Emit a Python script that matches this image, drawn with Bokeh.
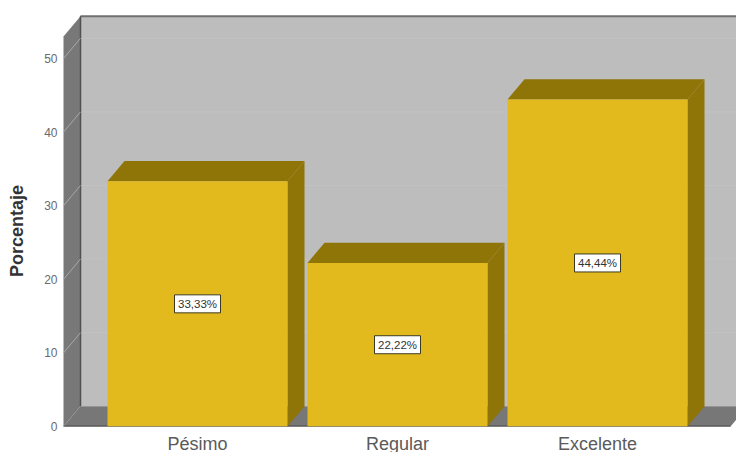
from bokeh.plotting import figure
from bokeh.models import FixedTicker, Range1d
from bokeh.embed import file_html
from bokeh.resources import INLINE
from bokeh.core.properties import value

categories = ["Pésimo", "Regular", "Excelente"]
percent = [33.33, 22.22, 44.44]
percent_labels = ["33,33%", "22,22%", "44,44%"]
y_ticks = [0, 10, 20, 30, 40, 50]
y_title = "Porcentaje"

YEL, DARK, WALL, SIDE, FLOOR = "#E2BA1E", "#8F7508", "#BDBDBD", "#787878", "#777777"
FONT = "Liberation Sans"
# 3D depth in data units, bar half width, axis extents
DX, DY, HW, TOP = 0.085, 2.75, 0.45, 53.0
XL, XR = -0.67, 2.665

xs = list(range(len(categories)))
p = figure(width=736, height=452, frame_width=674, frame_height=426,
           x_range=Range1d(XL - 0.005, 2.695), y_range=Range1d(0, 426 / 7.36),
           output_backend="svg", toolbar_location=None,
           min_border_left=62, min_border_right=0, min_border_top=0, min_border_bottom=26)
p.outline_line_color = None
p.background_fill_color = "white"
p.xgrid.visible = False
p.ygrid.visible = False

# back wall, its grid, side wall, floor
p.patch([XL + DX, 3.0, 3.0, XL + DX], [DY, DY, TOP + DY, TOP + DY], fill_color=WALL, line_color=None)
for t in y_ticks[1:]:
    p.line([XL + DX, 3.0], [t + DY, t + DY], line_color="#C2C2C2", line_width=1)
p.line([XL + DX, 3.0], [TOP + DY, TOP + DY], line_color="#707070", line_width=2)
p.patch([XL, XL + DX, XL + DX, XL], [0, DY, TOP + DY, TOP], fill_color=SIDE, line_color=None)
p.line([XL + DX, XL + DX], [DY, TOP + DY], line_color="#4F4F4F", line_width=1.5)
p.patch([XL, XL + DX, 3.0, XR], [0, DY, DY, 0], fill_color=FLOOR, line_color=None)
p.patch([XR, XR + DX, XR + DX], [0, DY, 0], fill_color="white", line_color=None)
for t in y_ticks[1:]:
    p.line([XL, XL + DX], [t, t + DY], line_color="#A8A8A8", line_width=1)

# 3D bars
for x, v in zip(xs, percent):
    p.patch([x + HW, x + HW + DX, x + HW + DX, x + HW], [0, DY, v + DY, v], fill_color=DARK, line_color=None)
    p.patch([x - HW, x - HW + DX, x + HW + DX, x + HW], [v, v + DY, v + DY, v], fill_color=DARK, line_color=None)
p.line([XL, XR], [0, 0], line_color="#202020", line_width=1.5)
p.vbar(x=xs, top=percent, bottom=0, width=2 * HW, fill_color=YEL, line_color=None)

# value labels
mid = [v / 2 for v in percent]
p.rect(x=xs, y=mid, width=46, height=18, width_units="screen", height_units="screen",
       fill_color="white", line_color="#3A3A20", line_width=1)
p.text(x=xs, y=mid, text=percent_labels, text_align="center", text_baseline="middle",
       text_font=value(FONT), text_font_size="11.5px", text_color="#333333")

p.xaxis.ticker = FixedTicker(ticks=xs)
p.xaxis.major_label_overrides = dict(zip(xs, categories))
p.xaxis.axis_line_color = None
p.xaxis.major_tick_line_color = None
p.xaxis.major_tick_out = 0
p.xaxis.minor_tick_line_color = None
p.xaxis.major_label_text_font = FONT
p.xaxis.major_label_text_font_size = "18px"
p.xaxis.major_label_text_color = "#5A5A5A"
p.xaxis.major_label_standoff = 7

p.yaxis.ticker = FixedTicker(ticks=y_ticks)
p.yaxis.axis_line_color = None
p.yaxis.major_tick_line_color = None
p.yaxis.major_tick_out = 0
p.yaxis.minor_tick_line_color = None
p.yaxis.major_label_text_font = FONT
p.yaxis.major_label_text_font_size = "12px"
p.yaxis.major_label_text_color = "#6A6A6A"
p.yaxis.major_label_standoff = 5
# trailing no-break spaces move the centred axis title down the frame
p.yaxis.axis_label = y_title + "\u00a0" * 7
p.yaxis.axis_label_text_font = FONT
p.yaxis.axis_label_text_font_style = "bold"
p.yaxis.axis_label_text_font_size = "18px"
p.yaxis.axis_label_text_color = "#333333"
p.yaxis.axis_label_standoff = 14

open("out.html", "w").write(file_html(p, INLINE))
